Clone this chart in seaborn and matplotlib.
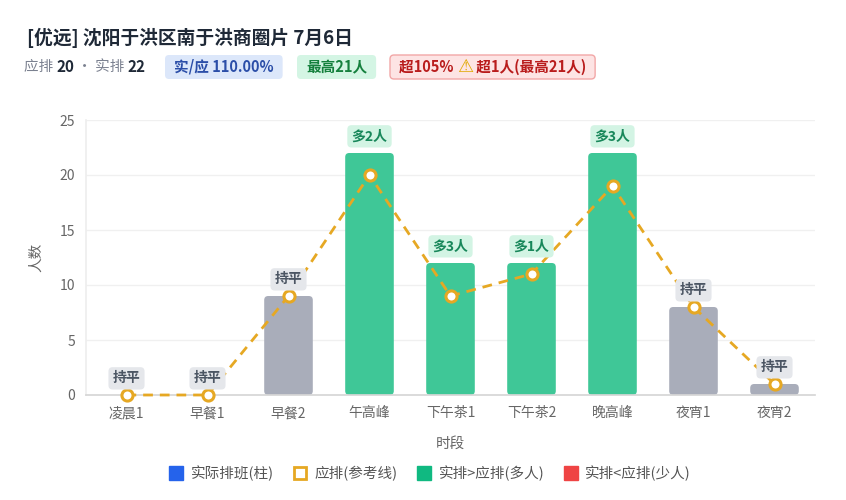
import numpy as np
import matplotlib
matplotlib.use("Agg")
import matplotlib.pyplot as plt
import seaborn as sns
from matplotlib.patches import FancyBboxPatch
from matplotlib.lines import Line2D
from matplotlib.transforms import IdentityTransform

# data
slots = ["凌晨1", "早餐1", "早餐2", "午高峰", "下午茶1", "下午茶2", "晚高峰", "夜宵1", "夜宵2"]
actual = [0, 0, 9, 22, 12, 12, 22, 8, 1]
planned = [0, 0, 9, 20, 9, 11, 19, 8, 1]

title = "[优远] 沈阳于洪区南于洪商圈片 7月6日"
plan_total = 20
actual_total = 22
ratio_text = "实/应 110.00%"
peak_text = "最高21人"

sns.set_theme(style="white")
plt.rcParams["font.family"] = ["Noto Sans CJK SC", "DejaVu Sans"]

GREEN = "#3FC797"
GREY = "#A9ADBA"
ORANGE = "#E6A823"

W, H = 846, 500
fig = plt.figure(figsize=(W / 100, H / 100), dpi=100)
ax = fig.add_axes([86 / W, 1 - 395 / H, (815 - 86) / W, (395 - 120) / H])

colors = [GREEN if a > p else ("#EF4444" if a < p else GREY) for a, p in zip(actual, planned)]
sns.barplot(x=slots, y=actual, hue=slots, palette=colors, legend=False, width=0.6, ax=ax, saturation=1)

ax.set_xlim(-0.5, len(slots) - 0.5)
ax.set_ylim(0, 25)

# rounded bar tops
aspect = (25 / 275) / (len(slots) / 729)
for p in list(ax.patches):
    x, w, h, fc = p.get_x(), p.get_width(), p.get_height(), p.get_facecolor()
    p.remove()
    if h <= 0:
        continue
    r = min(0.05, h / aspect / 2)
    ax.add_patch(FancyBboxPatch((x, 0), w, h, boxstyle=f"round,pad=0,rounding_size={r}",
                                mutation_aspect=aspect, fc=fc, ec="none", zorder=2))

sns.lineplot(x=np.arange(len(slots)), y=planned, ax=ax, color=ORANGE, linewidth=2,
             linestyle=(0, (3.5, 2.5)), marker="o", markersize=8, markerfacecolor="white",
             markeredgecolor=ORANGE, markeredgewidth=2.2, zorder=4)
ax.lines[-1].set_clip_on(False)

# diff badges
for i, (a, p) in enumerate(zip(actual, planned)):
    d = a - p
    if d > 0:
        txt, tc, bg = f"多{d}人", "#18875A", "#D3F4E4"
    elif d < 0:
        txt, tc, bg = f"少{-d}人", "#B42318", "#FDE2E2"
    else:
        txt, tc, bg = "持平", "#4B5563", "#E5E7EB"
    ax.annotate(txt, (i, max(a, p)), xytext=(0, 12), textcoords="offset points",
                ha="center", va="center", fontsize=10, fontweight="bold", color=tc,
                bbox=dict(boxstyle="round,pad=0.3,rounding_size=0.3", fc=bg, ec="none"), zorder=5)

ax.set_yticks([0, 5, 10, 15, 20, 25])
ax.grid(axis="y", color="#F0F0F0", linewidth=1)
ax.set_axisbelow(True)
for s in ["top", "right"]:
    ax.spines[s].set_visible(False)
ax.spines["left"].set_color("#EEEEEE")
ax.spines["bottom"].set_color("#D6D6D6")
ax.tick_params(axis="both", labelsize=10, colors="#666666", length=0, pad=8)
ax.set_xlabel("时段", fontsize=10.5, color="#666666", labelpad=12)
ax.set_ylabel("人数", fontsize=10.5, color="#666666", labelpad=12)

# header
fig.canvas.draw()
renderer = fig.canvas.get_renderer()
ident = IdentityTransform()


def run(pieces, x, y):
    for s, kw in pieces:
        t = fig.text(x, H - y, s, transform=ident, va="center", ha="left", **kw)
        x += t.get_window_extent(renderer).width
    return x


def badge(pieces, x, y, fc, ec="none", padx=9, h=24):
    x_end = run(pieces, x + padx, y)
    fig.patches.append(FancyBboxPatch((x, H - y - h / 2), x_end - x + padx, h,
                                      boxstyle="round,pad=0,rounding_size=4", fc=fc, ec=ec,
                                      lw=1, transform=ident, figure=fig, zorder=0))
    return x_end + padx


fig.text(27, H - 38, title, transform=ident, va="center", fontsize=13.5, fontweight="bold", color="#1F2937")

grey_kw = dict(fontsize=10.5, color="#7B8190")
bold_kw = dict(fontsize=11, color="#1F2937", fontweight="bold")
run([("应排 ", grey_kw), (str(plan_total), bold_kw), (" · 实排 ", grey_kw), (str(actual_total), bold_kw)], 24, 67)

badge([(ratio_text, dict(fontsize=10.5, color="#2B4EA8", fontweight="bold"))], 165, 67, "#DCE7FA")
badge([(peak_text, dict(fontsize=10.5, color="#15803D", fontweight="bold"))], 297, 67, "#D4F5E4")
red_kw = dict(fontsize=10.5, color="#B91C1C", fontweight="bold")
badge([("超105% ", red_kw), ("⚠", dict(fontsize=13, color="#E0A800", family=["DejaVu Sans"])),
       (" 超1人(最高21人)", red_kw)], 390, 67, "#FDE4E4", ec="#F2A7A7")

# legend
handles = [
    Line2D([], [], marker="s", ls="none", ms=10, mfc="#2563EB", mec="#2563EB"),
    Line2D([], [], marker="s", ls="none", ms=9, mfc="white", mec=ORANGE, mew=2),
    Line2D([], [], marker="s", ls="none", ms=10, mfc="#10B981", mec="#10B981"),
    Line2D([], [], marker="s", ls="none", ms=10, mfc="#EF4444", mec="#EF4444"),
]
labels = ["实际排班(柱)", "应排(参考线)", "实排>应排(多人)", "实排<应排(少人)"]
fig.legend(handles, labels, loc="center", bbox_to_anchor=(430 / W, 1 - 473 / H), ncol=4,
           frameon=False, fontsize=10.5, labelcolor="#555555", handletextpad=0.5,
           columnspacing=1.3, handlelength=1)

fig.savefig("out.png", dpi=100)
